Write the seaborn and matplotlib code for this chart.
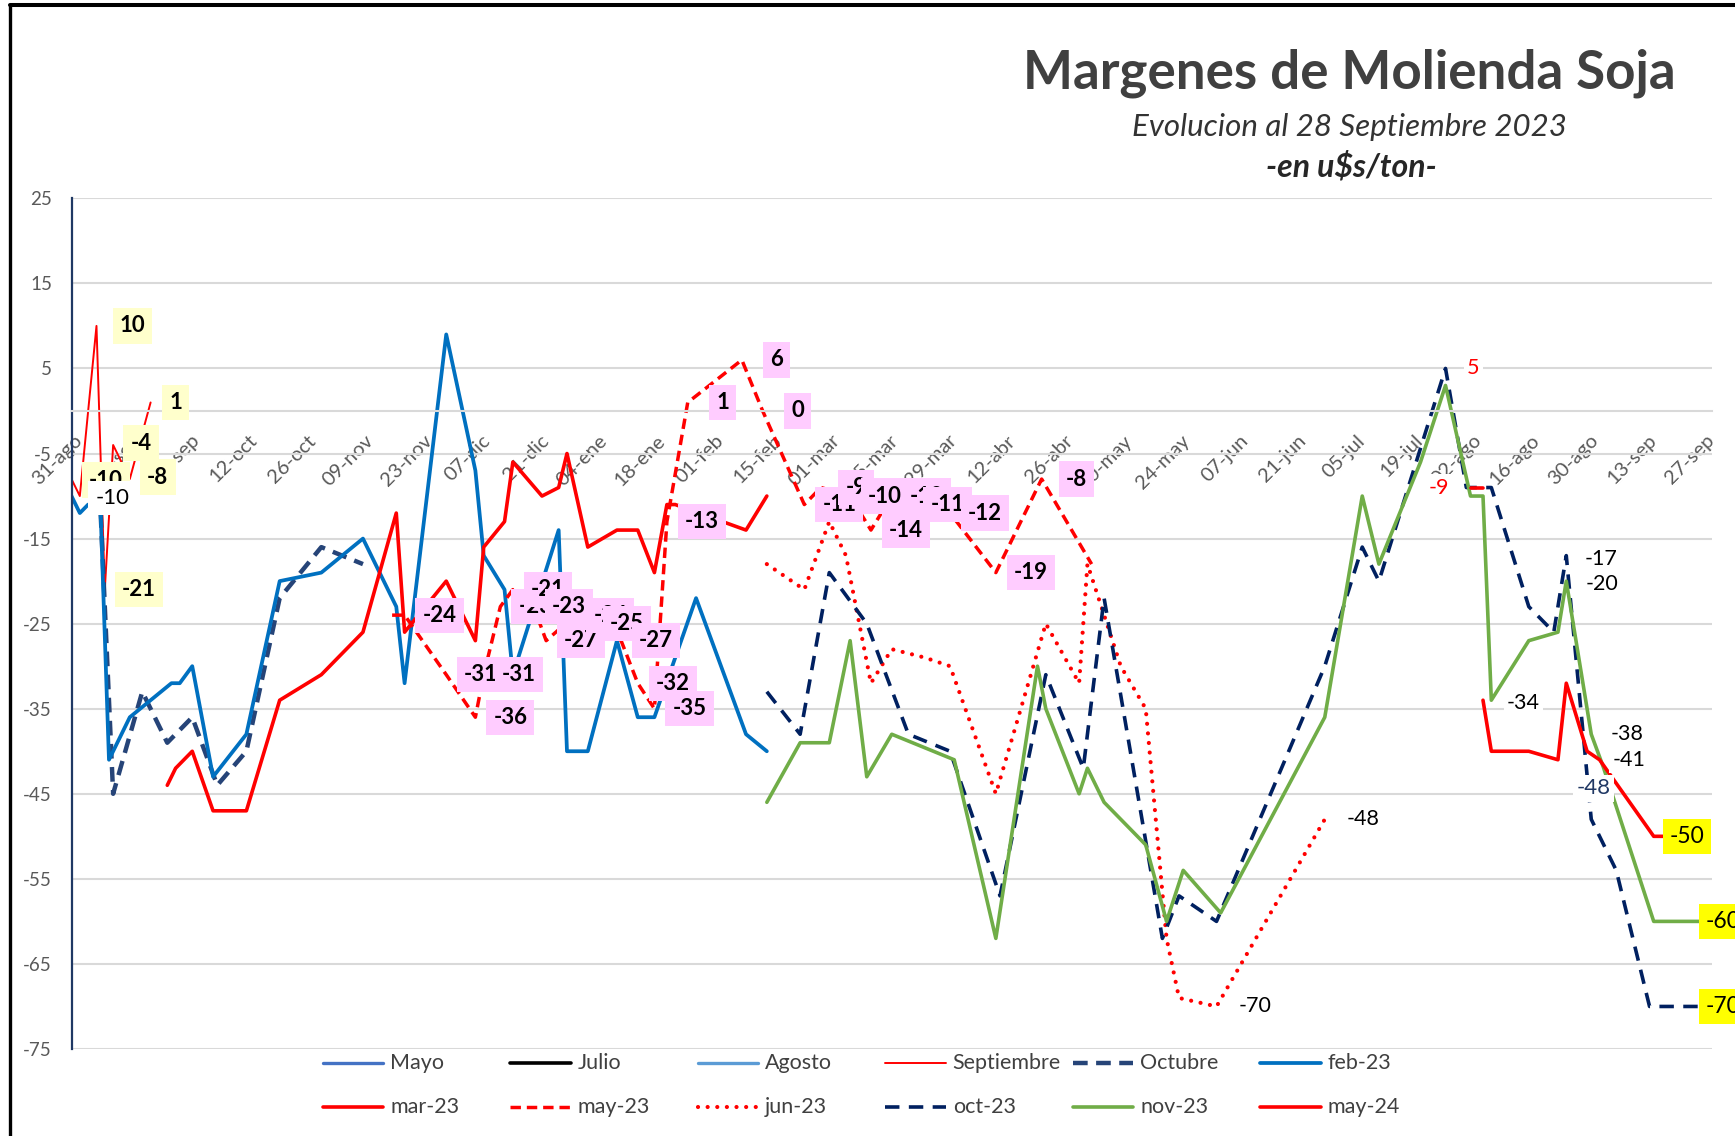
import numpy as np
import pandas as pd
import seaborn as sns
import matplotlib.pyplot as plt
import matplotlib.dates as mdates
import matplotlib.transforms as mtransforms
from matplotlib.lines import Line2D

# ---- datos: margen de molienda (u$s/ton) por posicion ----
sept_fechas = ['2022-08-31', '2022-09-02', '2022-09-06', '2022-09-08', '2022-09-10', '2022-09-14', '2022-09-19']
sept_vals = [-8, -10, 10, -21, -4, -8, 1]

octu_fechas = ['2022-09-07', '2022-09-10', '2022-09-17', '2022-09-23', '2022-09-29', '2022-10-05', '2022-10-12',
               '2022-10-20', '2022-10-30', '2022-11-09']
octu_vals = [-12, -45, -33, -39, -36, -44, -40, -22, -16, -18]

feb23_fechas = ['2022-08-31', '2022-09-02', '2022-09-04', '2022-09-07', '2022-09-09', '2022-09-14', '2022-09-24',
                '2022-09-26', '2022-09-29', '2022-10-04', '2022-10-12', '2022-10-20', '2022-10-30', '2022-11-09',
                '2022-11-17', '2022-11-19', '2022-11-29', '2022-12-06', '2022-12-08', '2022-12-13', '2022-12-15',
                '2022-12-26', '2022-12-28', '2023-01-02', '2023-01-09', '2023-01-14', '2023-01-18', '2023-01-28',
                '2023-02-09', '2023-02-14']
feb23_vals = [-10, -12, -11, -12, -41, -36, -32, -32, -30, -43, -38, -20, -19, -15, -23, -32, 9, -7, -17, -21,
              -31, -14, -40, -40, -27, -36, -36, -22, -38, -40]

mar23_fechas = ['2022-09-23', '2022-09-25', '2022-09-29', '2022-10-04', '2022-10-12', '2022-10-20', '2022-10-30',
                '2022-11-09', '2022-11-17', '2022-11-19', '2022-11-29', '2022-12-06', '2022-12-08', '2022-12-13',
                '2022-12-15', '2022-12-22', '2022-12-26', '2022-12-28', '2023-01-02', '2023-01-09', '2023-01-14',
                '2023-01-18', '2023-01-21', '2023-01-23', '2023-02-09', '2023-02-14']
mar23_vals = [-44, -42, -40, -47, -47, -34, -31, -26, -12, -26, -20, -27, -16, -13, -6, -10, -9, -5, -16, -14,
              -14, -19, -11, -11, -14, -10]

may23_fechas = ['2022-11-16', '2022-11-19', '2022-11-29', '2022-12-06', '2022-12-08', '2022-12-12', '2022-12-15',
                '2022-12-20', '2022-12-23', '2022-12-30', '2023-01-03', '2023-01-10', '2023-01-14', '2023-01-18',
                '2023-01-21', '2023-01-26', '2023-02-08', '2023-02-13', '2023-02-23', '2023-02-27', '2023-03-06',
                '2023-03-11', '2023-03-16', '2023-03-21', '2023-03-30', '2023-04-10', '2023-04-21', '2023-05-03']
may23_vals = [-24, -24, -31, -36, -31, -23, -21, -23, -27, -24, -25, -27, -32, -35, -13, 1, 6, 0, -11, -9,
              -10, -14, -10, -11, -12, -19, -8, -18]

jun23_fechas = ['2023-02-14', '2023-02-23', '2023-03-01', '2023-03-05', '2023-03-11', '2023-03-16', '2023-03-24',
                '2023-03-30', '2023-04-10', '2023-04-22', '2023-04-30', '2023-05-02', '2023-05-10', '2023-05-16',
                '2023-05-21', '2023-05-24', '2023-06-02', '2023-06-28']
jun23_vals = [-18, -21, -13, -17, -32, -28, -29, -30, -45, -25, -32, -18, -30, -35, -62, -69, -70, -48]

oct23_fechas = ['2023-02-14', '2023-02-22', '2023-03-01', '2023-03-10', '2023-03-20', '2023-03-30', '2023-04-11',
                '2023-04-22', '2023-05-01', '2023-05-06', '2023-05-20', '2023-05-24', '2023-06-02', '2023-06-28',
                '2023-07-07', '2023-07-11', '2023-07-27', '2023-08-01', '2023-08-07', '2023-08-16', '2023-08-22',
                '2023-08-25', '2023-08-31', '2023-09-06', '2023-09-14', '2023-09-28']
oct23_vals = [-33, -38, -19, -25, -38, -40, -57, -31, -42, -22, -62, -57, -60, -30, -16, -20, 5, -9, -9, -23,
              -26, -17, -48, -54, -70, -70]

nov23_fechas = ['2023-02-14', '2023-02-22', '2023-03-01', '2023-03-06', '2023-03-10', '2023-03-16', '2023-03-31',
                '2023-04-10', '2023-04-20', '2023-04-22', '2023-04-30', '2023-05-02', '2023-05-06', '2023-05-16',
                '2023-05-21', '2023-05-25', '2023-06-03', '2023-06-28', '2023-07-07', '2023-07-11', '2023-07-21',
                '2023-07-27', '2023-08-02', '2023-08-05', '2023-08-07', '2023-08-16', '2023-08-23', '2023-08-25',
                '2023-08-31', '2023-09-03', '2023-09-15', '2023-09-28']
nov23_vals = [-46, -39, -39, -27, -43, -38, -41, -62, -30, -35, -45, -42, -46, -51, -60, -54, -59, -36, -10, -18,
              -6, 3, -10, -10, -34, -27, -26, -20, -38, -42, -60, -60]

may24_fechas = ['2023-08-02', '2023-08-05', '2023-08-05', '2023-08-05', '2023-08-07', '2023-08-16', '2023-08-23',
                '2023-08-25', '2023-08-30', '2023-09-02', '2023-09-15', '2023-09-28']
may24_vals = [-9, -9, np.nan, -34, -40, -40, -41, -32, -40, -41, -50, -50]

tick_labels = ['31-ago', '14-sep', '28-sep', '12-oct', '26-oct', '09-nov', '23-nov', '07-dic', '21-dic', '04-ene',
               '18-ene', '01-feb', '15-feb', '01-mar', '15-mar', '29-mar', '12-abr', '26-abr', '10-may', '24-may',
               '07-jun', '21-jun', '05-jul', '19-jul', '02-ago', '16-ago', '30-ago', '13-sep', '27-sep']

series = {
    'Mayo': ([], []),
    'Julio': ([], []),
    'Agosto': ([], []),
    'Septiembre': (sept_fechas, sept_vals),
    'Octubre': (octu_fechas, octu_vals),
    'feb-23': (feb23_fechas, feb23_vals),
    'mar-23': (mar23_fechas, mar23_vals),
    'may-23': (may23_fechas, may23_vals),
    'jun-23': (jun23_fechas, jun23_vals),
    'oct-23': (oct23_fechas, oct23_vals),
    'nov-23': (nov23_fechas, nov23_vals),
    'may-24': (may24_fechas, may24_vals),
}

estilos = {
    'Mayo': dict(color='#4472C4', linewidth=2.4, linestyle='-'),
    'Julio': dict(color='black', linewidth=2.6, linestyle='-'),
    'Agosto': dict(color='#5B9BD5', linewidth=2.4, linestyle='-'),
    'Septiembre': dict(color='#FF0000', linewidth=1.4, linestyle='-'),
    'Octubre': dict(color='#264478', linewidth=3.2, linestyle=(0, (3.3, 1.9))),
    'feb-23': dict(color='#0070C0', linewidth=2.7, linestyle='-'),
    'mar-23': dict(color='#FF0000', linewidth=2.6, linestyle='-'),
    'may-23': dict(color='#FF0000', linewidth=2.5, linestyle=(0, (3, 1.7))),
    'jun-23': dict(color='#FF0000', linewidth=3.0, linestyle=(0, (0.01, 2.3)), dash_capstyle='round'),
    'oct-23': dict(color='#002060', linewidth=2.6, linestyle=(0, (4, 2.6))),
    'nov-23': dict(color='#70AD47', linewidth=2.6, linestyle='-'),
    'may-24': dict(color='#FF0000', linewidth=2.6, linestyle='-'),
}

etq_estilos = {
    'amarillo': dict(fontsize=16, fontweight='bold', color='black',
                     bbox=dict(boxstyle='square,pad=0.32', fc='#FFFFCC', ec='none')),
    'rosa': dict(fontsize=16, fontweight='bold', color='black',
                 bbox=dict(boxstyle='square,pad=0.32', fc='#FFCCFF', ec='none')),
    'blanco': dict(fontsize=16, color='black', bbox=dict(boxstyle='square,pad=0.32', fc='white', ec='none')),
    'plano': dict(fontsize=15.5, color='black', bbox=dict(boxstyle='square,pad=0.15', fc='white', ec='none')),
    'amarillo2': dict(fontsize=16.5, color='black', bbox=dict(boxstyle='square,pad=0.3', fc='#FFFF00', ec='none')),
    'rojo': dict(fontsize=15.5, color='#FF0000', bbox=dict(boxstyle='square,pad=0.15', fc='white', ec='none')),
    'azul': dict(fontsize=16, color='#203864', bbox=dict(boxstyle='square,pad=0.15', fc='white', ec='none')),
}

# (serie, indice del punto, estilo, dx px, dy px)
etiquetas = [
    ('Septiembre', 1, 'amarillo', 26, -16),
    ('Septiembre', 2, 'amarillo', 36, 0),
    ('Septiembre', 3, 'amarillo', 34, 0),
    ('Septiembre', 4, 'amarillo', 28, -2),
    ('Septiembre', 5, 'amarillo', 28, -2),
    ('Septiembre', 6, 'amarillo', 25, 0),
    ('feb-23', 0, 'blanco', 41, 2),
]
etiquetas += [('may-23', i, 'rosa', 35, 0) for i in range(1, 27)]
etiquetas += [
    ('jun-23', 16, 'plano', 39, 0),
    ('jun-23', 17, 'plano', 38, 0),
    ('oct-23', 16, 'rojo', 28, 0),
    ('oct-23', 21, 'plano', 35, 3),
    ('oct-23', 22, 'azul', 2, -31),
    ('oct-23', 25, 'amarillo2', 15, 0),
    ('nov-23', 24, 'plano', 32, 3),
    ('nov-23', 27, 'plano', 36, 3),
    ('nov-23', 28, 'plano', 36, 0),
    ('nov-23', 31, 'amarillo2', 15, 0),
    ('may-24', 0, 'rojo', -32, 0),
    ('may-24', 9, 'plano', 29, 0),
    ('may-24', 11, 'amarillo2', -21, 0),
]

sns.set_style('white')
plt.rcParams['font.family'] = ['Lato', 'DejaVu Sans']
plt.rcParams['axes.unicode_minus'] = False

W, H = 1735, 1136
fig = plt.figure(figsize=(W / 100, H / 100), dpi=100)
ax = fig.add_axes([71.5 / W, 1 - 1049 / H, (1712 - 71.5) / W, (1049 - 198.3) / H])

# lineas (cortes en NaN)
for nombre, (fechas, vals) in series.items():
    if not fechas:
        continue
    df = pd.DataFrame({'fecha': pd.to_datetime(fechas), 'valor': vals})
    tramo = df['valor'].isna().cumsum()
    for _, parte in df[df['valor'].notna()].groupby(tramo[df['valor'].notna()]):
        sns.lineplot(data=parte, x='fecha', y='valor', ax=ax, estimator=None, sort=False,
                     legend=False, **estilos[nombre])

# ejes: la posicion del spine va antes de las etiquetas (resetea los ticks)
for s in ['top', 'right']:
    ax.spines[s].set_visible(False)
ax.spines['left'].set_color('#1F3864')
ax.spines['left'].set_linewidth(1.6)
ax.spines['bottom'].set_position(('data', 0))
ax.spines['bottom'].set_color('#D9D9D9')
ax.spines['bottom'].set_linewidth(1.5)

inicio = pd.Timestamp('2022-08-31')
ax.set_xlim(inicio, inicio + pd.Timedelta(days=394))
ax.set_ylim(-75, 25)
ax.set_yticks(np.arange(-75, 26, 10))
ax.set_xlabel('')
ax.set_ylabel('')
ax.tick_params(axis='y', length=0, pad=14, labelsize=13.5, labelcolor='#595959')
ax.tick_params(axis='x', length=0, pad=15, labelsize=14.5, labelcolor='#595959', labelrotation=45)

tick_fechas = pd.date_range(inicio, periods=len(tick_labels), freq='14D')
ax.set_xticks(tick_fechas)
ax.set_xticklabels(tick_labels)
desplaza = mtransforms.ScaledTranslation(2 / 100, 0, fig.dpi_scale_trans)
for lbl in ax.get_xticklabels():
    lbl.set_ha('right')
    lbl.set_va('top')
    lbl.set_rotation_mode('anchor')
    lbl.set_transform(lbl.get_transform() + desplaza)

ax.yaxis.grid(True, color='#D9D9D9', linewidth=1.5)
ax.xaxis.grid(False)
ax.set_axisbelow(True)

# etiquetas de datos
for nombre, i, est, dx, dy in etiquetas:
    fechas, vals = series[nombre]
    x = mdates.date2num(pd.Timestamp(fechas[i]))
    v = vals[i]
    ax.annotate(f'{v:.0f}', xy=(x, v), xytext=(dx / 1.389, -dy / 1.389), textcoords='offset points',
                ha='center', va='center', annotation_clip=False, zorder=6, **etq_estilos[est])

# titulos
fig.text(1349.5 / W, 1 - 88.3 / H, 'Margenes de Molienda Soja', ha='center', va='baseline',
         fontsize=38.2, fontweight='bold', color='#404040')
fig.text(1349.5 / W, 1 - 136 / H, 'Evolucion al 28 Septiembre 2023', ha='center', va='baseline',
         fontsize=22.5, fontstyle='italic', color='#333333')
fig.text(1351 / W, 1 - 176.7 / H, '-en u$s/ton-', ha='center', va='baseline',
         fontsize=23, fontstyle='italic', fontweight='bold', color='#262626')

# leyenda (6 columnas, 2 filas)
for k, nombre in enumerate(series):
    fila, col = divmod(k, 6)
    y = 1 - (1062.7 + fila * 44.6) / H
    x0 = (322.7 + col * 187.5) / W
    fig.add_artist(Line2D([x0, x0 + 60.5 / W], [y, y], transform=fig.transFigure, **estilos[nombre]))
    fig.text(x0 + 67.5 / W, y, nombre, ha='left', va='center', fontsize=15.5, color='#404040')

# marco
fig.add_artist(Line2D([10 / W, 10 / W], [0, 1 - 5 / H], color='black', linewidth=2.4, transform=fig.transFigure))
fig.add_artist(Line2D([10 / W, 1], [1 - 5 / H, 1 - 5 / H], color='black', linewidth=2.9, transform=fig.transFigure))

fig.savefig('out.png', dpi=100)
